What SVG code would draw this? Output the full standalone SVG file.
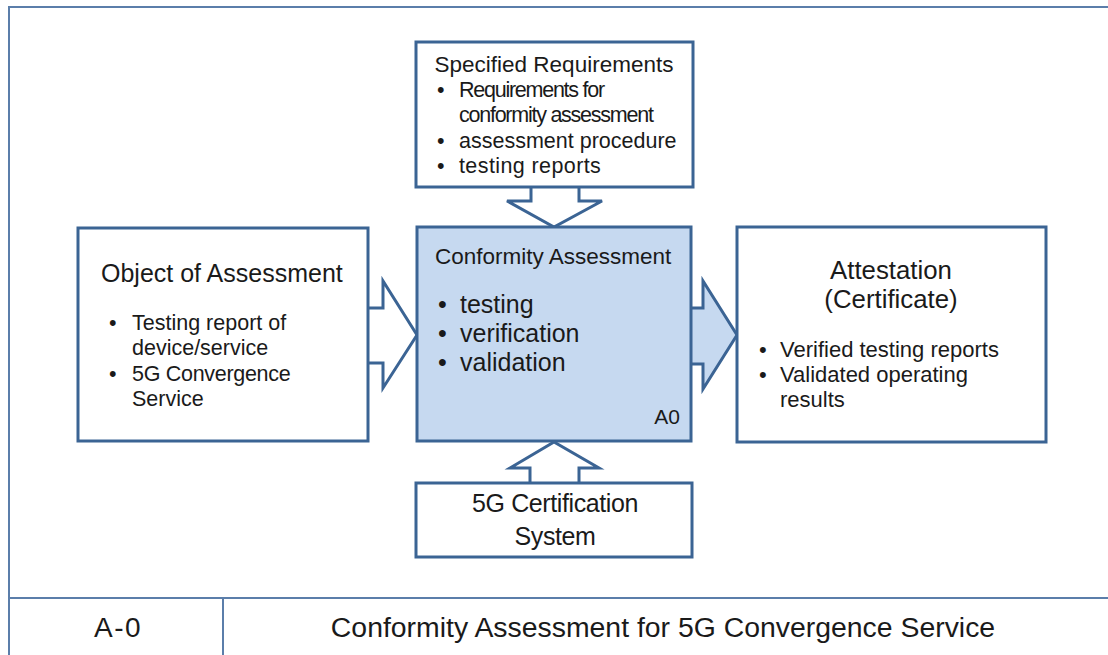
<svg xmlns="http://www.w3.org/2000/svg" width="1108" height="655" viewBox="0 0 1108 655">
<style>
.box{fill:#fff;stroke:#3b6494;stroke-width:3}
.blue{fill:#c6d9f0}
.arr{stroke:#3b6494;stroke-width:3;stroke-linejoin:miter}
.frame{fill:none;stroke:#5b7eaa;stroke-width:2}
text{font-family:"Liberation Sans","Noto Sans CJK KR",sans-serif;fill:#1a1a1a}
.t{font-size:22.5px}
.b{font-size:21.5px}
.c{font-size:25px}
</style>
<rect width="1108" height="655" fill="#fff"/>
<g id="frame">
<path class="frame" d="M9,655 V7 H1108 M9,598 H1108 M223,598 V655"/>
</g>
<g id="connectors">
<path class="arr" fill="#fff" d="M368,308 H383 V281 L417,335 L383,388 V363 H368"/>
<path class="arr blue" d="M691,308 H703 V281 L737,335 L703,389 V364 H691"/>
<path class="arr" fill="#fff" d="M531,187 V201 H507 L554,227 L602,201 H579 V187"/>
<path class="arr" fill="#fff" d="M530,483 V468 H510 L554,442 L599,468 H579 V483"/>
</g>
<g id="specified">
<rect class="box" x="416" y="42" width="277" height="145"/>
<text class="t" x="554" y="72" text-anchor="middle">Specified Requirements</text>
<text class="b" x="437" y="97">•</text><text class="b" x="459" y="97" letter-spacing="-1.25">Requirements for</text>
<text class="b" x="459" y="122" letter-spacing="-1.25">conformity assessment</text>
<text class="b" x="437" y="148">•</text><text class="b" x="459" y="148">assessment procedure</text>
<text class="b" x="437" y="173">•</text><text class="b" x="459" y="173" letter-spacing="0.4">testing reports</text>
</g>
<g id="object">
<rect class="box" x="78" y="228" width="290" height="213"/>
<text class="c" x="101" y="282">Object of Assessment</text>
<text class="b" x="109" y="330">•</text><text class="b" x="132" y="330">Testing report of</text>
<text class="b" x="132" y="355">device/service</text>
<text class="b" x="109" y="381">•</text><text class="b" x="132" y="381" letter-spacing="-0.3">5G Convergence</text>
<text class="b" x="132" y="406">Service</text>
</g>
<g id="conformity">
<rect class="box blue" x="417" y="227" width="274" height="214"/>
<text class="t" x="435" y="264">Conformity Assessment</text>
<text class="c" x="438" y="313">•</text><text class="c" x="460" y="313">testing</text>
<text class="c" x="438" y="342">•</text><text class="c" x="460" y="342">verification</text>
<text class="c" x="438" y="371">•</text><text class="c" x="460" y="371">validation</text>
<text x="680" y="424" font-size="21" text-anchor="end">A0</text>
</g>
<g id="attestation">
<rect class="box" x="737" y="227" width="309" height="215"/>
<text x="891" y="279" font-size="25.8" text-anchor="middle">Attestation</text>
<text x="891" y="308" font-size="25.8" text-anchor="middle">(Certificate)</text>
<text x="759" y="357" font-size="22">•</text><text x="780" y="357" font-size="22">Verified testing reports</text>
<text x="759" y="382" font-size="22">•</text><text x="780" y="382" font-size="22">Validated operating</text>
<text x="780" y="407" font-size="22">results</text>
</g>
<g id="certsystem">
<rect class="box" x="416" y="483" width="276" height="74"/>
<text x="555" y="512" font-size="25" text-anchor="middle" letter-spacing="-0.4">5G Certification</text>
<text x="555" y="545" font-size="25" text-anchor="middle" letter-spacing="-0.4">System</text>
</g>
<g id="footer">
<text x="118" y="637" font-size="28" text-anchor="middle" letter-spacing="1.5">A-0</text>
<text x="663" y="637" font-size="28.4" text-anchor="middle">Conformity Assessment for 5G Convergence Service</text>
</g>
</svg>
